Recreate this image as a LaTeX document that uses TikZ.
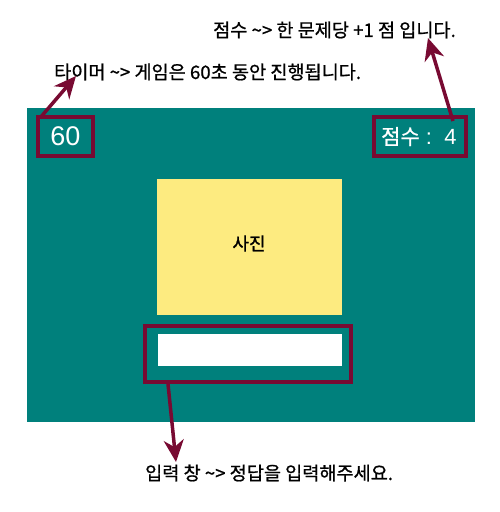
\documentclass[tikz,border=0pt]{standalone}
\usepackage{fontspec}
\setmainfont{Noto Sans CJK KR}
\newfontfamily\medfont[FakeBold=0.9]{Noto Sans CJK KR}
\newfontfamily\arialfont{Liberation Sans}
\usetikzlibrary{arrows.meta}
\definecolor{teal0}{HTML}{00807C}
\definecolor{maroon0}{HTML}{780A32}
\definecolor{yel0}{HTML}{FDEB80}
\tikzset{
  hl/.style={draw=maroon0, line width=3.5pt},
  callout/.style={draw=maroon0, line width=3.5pt, -{Stealth[length=22pt,width=20pt,inset=7pt]}},
  note/.style={font=\medfont\fontsize{18.6}{22}\selectfont, inner sep=0pt, anchor=west},
  scr/.style={text=white, inner sep=0pt},
}
\begin{document}
\begin{tikzpicture}[x=1pt,y=-1pt]
\useasboundingbox (0,0) rectangle (500,512);
\fill[teal0] (27,108) rectangle (475,422);
% top area boxes
\draw[hl] (38,117) rectangle (93,156);
\coordinate (timerTL) at (40,118);
\node[scr, font=\arialfont\fontsize{27}{30}\selectfont] (timer) at (65.5,136.5) {60};
\draw[hl] (374,117) rectangle (466,156);
\coordinate (scoreTR) at (453,121);
\node[scr, anchor=west] (score) at (381,136.5) {{\medfont\fontsize{21}{24}\selectfont 점수}{\arialfont\fontsize{22}{26}\selectfont\ :\ \ 4}};
% photo
\fill[yel0] (157,179) rectangle (342,315);
\node[inner sep=0pt, font=\medfont\fontsize{18}{20}\selectfont] (photo) at (249,243.5) {사진};
% input
\draw[hl] (145,326) rectangle (351,382);
\fill[white] (158,334) rectangle (342,366);
\coordinate (inputBL) at (168,384);
% notes
\node[note] (n1) at (213,30) {점수 \textasciitilde> 한 문제당 +1 점 입니다.};
\node[note] (n2) at (54,72) {타이머 \textasciitilde> 게임은 60초 동안 진행됩니다.};
\node[note] (n3) at (145,473) {입력 창 \textasciitilde> 정답을 입력해주세요.};
\coordinate (t1) at (76,76);
\coordinate (t2) at (428,38);
\coordinate (t3) at (176,462);
\draw[callout] (timerTL) -- (t1);
\draw[callout] (scoreTR) -- (t2);
\draw[callout] (inputBL) -- (t3);
\end{tikzpicture}
\end{document}
